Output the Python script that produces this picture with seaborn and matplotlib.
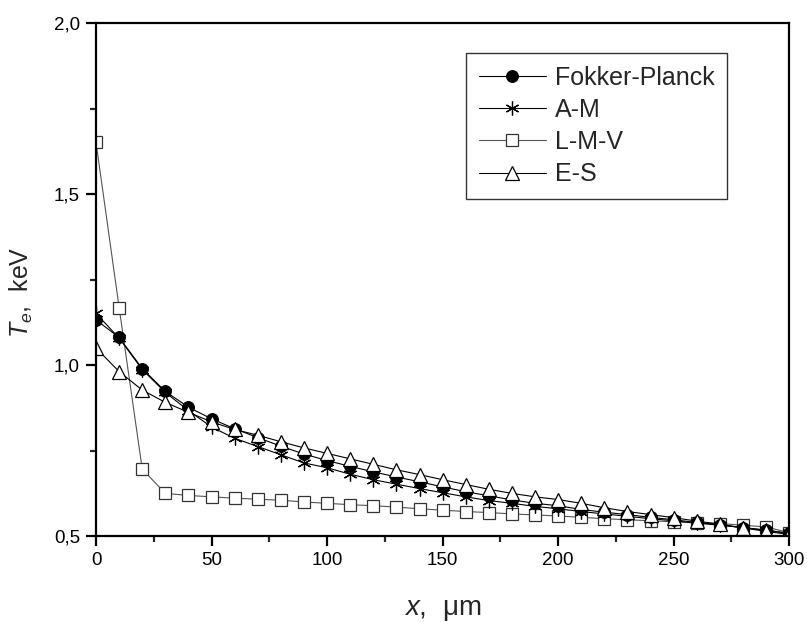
import matplotlib
matplotlib.use("Agg")
import matplotlib.pyplot as plt
import seaborn as sns
from matplotlib.ticker import FuncFormatter, MultipleLocator

# distance, um
x_um = [0, 10, 20, 30, 40, 50, 60, 70, 80, 90, 100, 110, 120, 130, 140, 150,
        160, 170, 180, 190, 200, 210, 220, 230, 240, 250, 260, 270, 280, 290, 300]

# electron temperature, keV
fokker_planck = [1.132, 1.081, 0.990, 0.923, 0.877, 0.843, 0.814, 0.788, 0.763, 0.740,
                 0.721, 0.704, 0.688, 0.673, 0.659, 0.644, 0.630, 0.618, 0.606, 0.596,
                 0.589, 0.578, 0.570, 0.563, 0.555, 0.548, 0.540, 0.533, 0.525, 0.517, 0.508]
a_m = [1.151, 1.079, 0.987, 0.920, 0.867, 0.819, 0.786, 0.762, 0.738, 0.714,
       0.700, 0.681, 0.665, 0.652, 0.639, 0.627, 0.615, 0.604, 0.596, 0.587,
       0.580, 0.572, 0.565, 0.558, 0.551, 0.545, 0.538, 0.532, 0.525, 0.518, 0.508]
l_m_v = [1.651, 1.168, 0.696, 0.625, 0.619, 0.615, 0.611, 0.608, 0.605, 0.600,
         0.596, 0.592, 0.589, 0.585, 0.580, 0.576, 0.572, 0.569, 0.565, 0.562,
         0.559, 0.555, 0.551, 0.548, 0.545, 0.542, 0.539, 0.537, 0.532, 0.527, 0.510]
e_s = [1.050, 0.981, 0.927, 0.891, 0.862, 0.834, 0.812, 0.795, 0.776, 0.758,
       0.742, 0.726, 0.710, 0.694, 0.680, 0.665, 0.651, 0.637, 0.625, 0.615,
       0.607, 0.596, 0.583, 0.572, 0.563, 0.554, 0.544, 0.535, 0.524, 0.514, 0.505]

sns.set_style("ticks")
plt.rcParams["font.family"] = ["Liberation Sans", "DejaVu Sans"]
plt.rcParams["mathtext.fontset"] = "custom"
plt.rcParams["mathtext.rm"] = "Liberation Sans"
plt.rcParams["mathtext.it"] = "Liberation Sans:italic"

fig = plt.figure(figsize=(8.07, 6.22), dpi=100)
ax = fig.add_axes([0.119, 0.138, 0.859, 0.825])

# drawing order: squares, asterisks, dots, triangles on top
sns.lineplot(x=x_um, y=l_m_v, ax=ax, color="#555555", lw=0.8, marker="s",
             markersize=8, markerfacecolor="white", markeredgecolor="#333333",
             markeredgewidth=0.9, label="L-M-V")
sns.lineplot(x=x_um, y=a_m, ax=ax, color="black", lw=0.8, marker=(6, 2, 0),
             markersize=10, markeredgecolor="black", markeredgewidth=0.9, label="A-M")
sns.lineplot(x=x_um, y=fokker_planck, ax=ax, color="black", lw=0.8, marker="o",
             markersize=8.5, markerfacecolor="black", markeredgecolor="black",
             label="Fokker-Planck")
sns.lineplot(x=x_um, y=e_s, ax=ax, color="black", lw=0.8, marker="^",
             markersize=10, markerfacecolor="white", markeredgecolor="black",
             markeredgewidth=0.9, label="E-S")

ax.set_xlim(0, 300)
ax.set_ylim(0.5, 2.0)
ax.xaxis.set_major_locator(MultipleLocator(50))
ax.xaxis.set_minor_locator(MultipleLocator(25))
ax.yaxis.set_major_locator(MultipleLocator(0.5))
ax.yaxis.set_minor_locator(MultipleLocator(0.25))
ax.xaxis.set_major_formatter(FuncFormatter(lambda v, p: f"{v:.0f}"))
ax.yaxis.set_major_formatter(FuncFormatter(lambda v, p: f"{v:.1f}".replace(".", ",")))

for s in ax.spines.values():
    s.set_linewidth(1.6)
    s.set_color("black")
ax.tick_params(which="major", direction="out", length=7.5, width=1.6,
               labelsize=13.5, colors="black", pad=4)
ax.tick_params(which="minor", direction="out", length=4, width=1.6)

ax.set_xlabel(r"$x$,  μm", fontsize=20, labelpad=20)
ax.set_ylabel(r"$T_{e}$,  keV", fontsize=18)
ax.yaxis.set_label_coords(-0.088, 0.476)

handles, labels = ax.get_legend_handles_labels()
order = [labels.index(n) for n in ["Fokker-Planck", "A-M", "L-M-V", "E-S"]]
leg = ax.legend([handles[i] for i in order], [labels[i] for i in order],
                loc="upper left", bbox_to_anchor=(0.534, 0.9415), borderaxespad=0,
                fontsize=18, frameon=True, fancybox=False, edgecolor="black",
                handlelength=2.7, handletextpad=0.35, labelspacing=0.33,
                borderpad=0.5)
leg.get_frame().set_linewidth(1.0)

fig.savefig("out.png", dpi=100, facecolor="white")
